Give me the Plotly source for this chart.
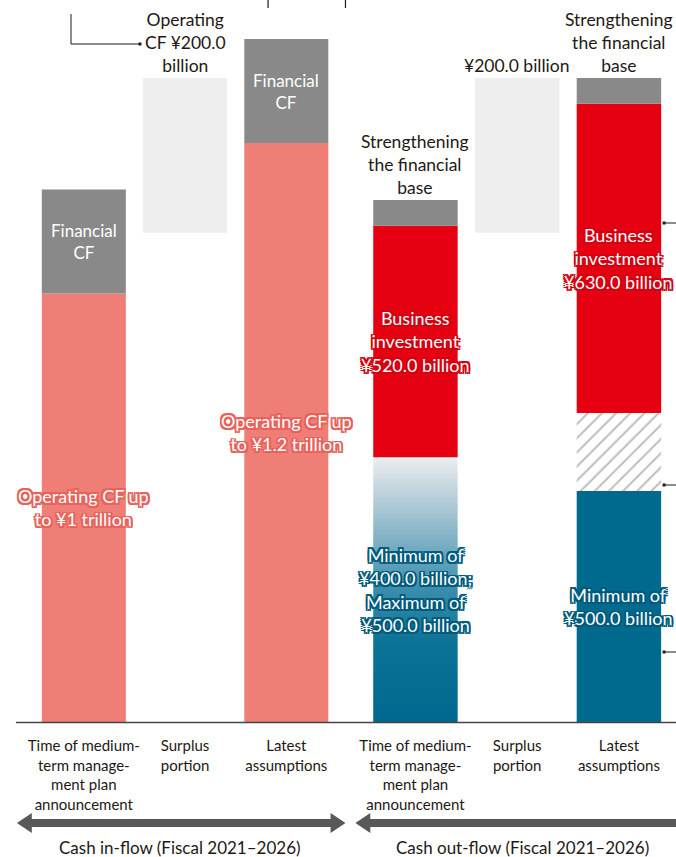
import plotly.graph_objects as go

# ---------------- data (schematic heights) ----------------
inflow_labels = ["Time of medium-<br>term manage-<br>ment plan<br>announcement",
                 "Surplus<br>portion", "Latest<br>assumptions"]
outflow_labels = ["Time of medium-<br>term manage-<br>ment plan<br>announcement",
                  "Surplus<br>portion", "Latest<br>assumptions"]

pos = [0, 1, 2]
# cash in-flow
in_operating = [1000, 0, 1351]
in_financial = [243, 0, 243]
in_surplus_base = 1142
in_surplus = 361
# cash out-flow
out_shareholder_plan = 617        # gradient (min 400 / max 500)
out_shareholder_latest = 539      # solid blue (min 500)
out_hatch_latest = 182
out_business = [541, 0, 722]
out_strength = [60, 0, 60]
out_surplus_base = 1142
out_surplus = 361

# ---------------- style ----------------
W, H, PLOT_H = 676, 857, 722
FONT = "Lato"
INK = "#231815"
SALMON = "#EF7E77"
GRAY = "#898989"
LIGHT = "#EEEEEE"
RED = "#E50012"
BLUE = "#00698E"
BW = 0.83


def px(x):
    return x / W


def py(y):
    return (PLOT_H - y) / PLOT_H


def outline(c, r=1.8):
    offs = [(r, 0), (-r, 0), (0, r), (0, -r), (r, r), (-r, -r), (r, -r), (-r, r)]
    return ", ".join(f"{a}px {b}px 0px {c}" for a, b in offs)


fig = go.Figure()

# ---- in-flow bars ----
fig.add_bar(x=[0, 2], y=[in_operating[0], in_operating[2]], width=BW,
            marker=dict(color=SALMON, line_width=0), xaxis="x", yaxis="y")
fig.add_bar(x=[0, 2], y=[in_financial[0], in_financial[2]],
            base=[in_operating[0], in_operating[2]], width=BW,
            marker=dict(color=GRAY, line_width=0), xaxis="x", yaxis="y")
fig.add_bar(x=[1], y=[in_surplus], base=[in_surplus_base], width=BW,
            marker=dict(color=LIGHT, line_width=0), xaxis="x", yaxis="y")

# ---- out-flow bars ----
hw = BW / 2
fig.add_scatter(x=[pos[0] - hw, pos[0] + hw, pos[0] + hw, pos[0] - hw, pos[0] - hw],
                y=[0, 0, out_shareholder_plan, out_shareholder_plan, 0],
                mode="lines", fill="toself", line=dict(width=0),
                fillgradient=dict(type="vertical", start=0, stop=out_shareholder_plan,
                                  colorscale=[[0, "#00688E"], [0.3, "#0B7396"],
                                              [0.5, "#3A8DAC"], [0.7, "#84B3C6"],
                                              [0.9, "#CAD9E1"], [1, "#ECEEF0"]]),
                xaxis="x2", yaxis="y", hoverinfo="skip")
fig.add_bar(x=[2], y=[out_shareholder_latest], width=BW,
            marker=dict(color=BLUE, line_width=0), xaxis="x2", yaxis="y")
fig.add_bar(x=[2], y=[out_hatch_latest], base=[out_shareholder_latest], width=BW,
            marker=dict(color="white", line_width=0,
                        pattern=dict(shape="/", fgcolor="#7A7A7A", bgcolor="white",
                                     size=10, solidity=0.2)),
            xaxis="x2", yaxis="y")
biz_base = [out_shareholder_plan, out_shareholder_latest + out_hatch_latest]
fig.add_bar(x=[0, 2], y=[out_business[0], out_business[2]], base=biz_base, width=BW,
            marker=dict(color=RED, line_width=0), xaxis="x2", yaxis="y")
str_base = [biz_base[0] + out_business[0], biz_base[1] + out_business[2]]
fig.add_bar(x=[0, 2], y=[out_strength[0], out_strength[2]], base=str_base, width=BW,
            marker=dict(color=GRAY, line_width=0), xaxis="x2", yaxis="y")
fig.add_bar(x=[1], y=[out_surplus], base=[out_surplus_base], width=BW,
            marker=dict(color=LIGHT, line_width=0), xaxis="x2", yaxis="y")

# ---------------- labels ----------------
ann = []


def inner(xref, x, y, text, col, size=18, shadow=True):
    f = dict(family=FONT, size=size, color="white")
    if shadow:
        f["shadow"] = outline(col)
    ann.append(dict(xref=xref, yref="y", x=x, y=y, text=text, showarrow=False,
                    font=f, xanchor="center", yanchor="middle", align="center"))


def above(xref, x, y, text, size=17.5):
    ann.append(dict(xref=xref, yref="y", x=x, y=y, text=text, showarrow=False,
                    font=dict(family=FONT, size=size, color=INK),
                    xanchor="center", yanchor="bottom", align="center", yshift=0))


inner("x", 0, in_operating[0] + in_financial[0] / 2, "Financial<br>CF", GRAY, size=17, shadow=False)
inner("x", 2, in_operating[2] + in_financial[2] / 2, "Financial<br>CF", GRAY, size=17, shadow=False)
inner("x", 0, in_operating[0] / 2, "Operating CF up<br>to ¥1 trillion", "#E8625B")
inner("x", 2, in_operating[2] / 2, "Operating CF up<br>to ¥1.2 trillion", "#E8625B")
above("x", 1, in_surplus_base + in_surplus, "Operating<br>CF ¥200.0<br>billion")

inner("x2", 0, biz_base[0] + out_business[0] / 2,
      "Business<br>investment<br>¥520.0 billion", "#D5000F")
inner("x2", 2, biz_base[1] + out_business[2] / 2,
      "Business<br>investment<br>¥630.0 billion", "#D5000F")
inner("x2", 0, out_shareholder_plan / 2,
      "Minimum of<br>¥400.0 billion;<br>Maximum of<br>¥500.0 billion", "#005A7C")
inner("x2", 2, out_shareholder_latest / 2,
      "Minimum of<br>¥500.0 billion", "#005A7C")
above("x2", 0, str_base[0] + out_strength[0], "Strengthening<br>the financial<br>base")
above("x2", 1, out_surplus_base + out_surplus, "¥200.0 billion")
above("x2", 2, str_base[1] + out_strength[2], "Strengthening<br>the financial<br>base")

# bottom captions
ann.append(dict(xref="paper", yref="paper", x=px(176), y=py(848),
                text="Cash in-flow (Fiscal 2021–2026)", showarrow=False,
                font=dict(family=FONT, size=17, color=INK), xanchor="center", yanchor="middle"))
ann.append(dict(xref="paper", yref="paper", x=px(521), y=py(848),
                text="Cash out-flow (Fiscal 2021–2026)", showarrow=False,
                font=dict(family=FONT, size=17, color=INK), xanchor="center", yanchor="middle"))

# ---------------- shapes ----------------
shapes = []
# baseline
shapes.append(dict(type="line", xref="paper", yref="paper", x0=px(11), x1=1.0,
                   y0=py(722.5), y1=py(722.5), line=dict(color="#444444", width=1.6)))


def path(pts):
    return "M " + " L ".join(f"{px(a):.5f},{py(b):.5f}" for a, b in pts) + " Z"


ARROW = "#595757"
yc = 823
left_arrow = [(12, yc), (27, yc - 10), (27, yc - 4), (328, yc - 4), (328, yc - 10),
              (343, yc), (328, yc + 10), (328, yc + 4), (27, yc + 4), (27, yc + 10)]
right_arrow = [(353, yc), (368, yc - 10), (368, yc - 4), (700, yc - 4), (700, yc + 4),
               (368, yc + 4), (368, yc + 10)]
for pts in (left_arrow, right_arrow):
    shapes.append(dict(type="path", xref="paper", yref="paper", path=path(pts),
                       fillcolor=ARROW, line=dict(width=0)))

# connector top-left
shapes.append(dict(type="path", xref="paper", yref="paper",
                   path=f"M {px(66.5)},{py(14)} L {px(66.5)},{py(44)} L {px(136)},{py(44)}",
                   line=dict(color=INK, width=1)))
shapes.append(dict(type="rect", xref="paper", yref="paper", x0=px(134.5), x1=px(137.5),
                   y0=py(45.5), y1=py(42.5), fillcolor=INK, line=dict(width=0)))
# tiny strokes at the very top
for xx in (265, 343):
    shapes.append(dict(type="line", xref="paper", yref="paper", x0=px(xx), x1=px(xx),
                       y0=py(0), y1=py(8), line=dict(color=INK, width=1.2)))
# right-side pointers
for yy in (223, 485, 652):
    shapes.append(dict(type="line", xref="paper", yref="paper", x0=px(664), x1=1.0,
                       y0=py(yy), y1=py(yy), line=dict(color=INK, width=1)))
    shapes.append(dict(type="rect", xref="paper", yref="paper", x0=px(662.5), x1=px(665.5),
                       y0=py(yy + 1.5), y1=py(yy - 1.5), fillcolor=INK, line=dict(width=0)))

axis_common = dict(range=[-0.5, 2.5], showgrid=False, zeroline=False, showline=False,
                   ticks="", tickvals=pos, fixedrange=True, ticklabelstandoff=13,
                   tickfont=dict(family=FONT, size=15, color=INK))

fig.update_layout(
    width=W, height=H, margin=dict(l=0, r=0, t=0, b=H - PLOT_H),
    paper_bgcolor="white", plot_bgcolor="white",
    barmode="overlay", showlegend=False, hovermode=False,
    xaxis=dict(domain=[px(28.4), px(334.4)], anchor="y", ticktext=inflow_labels, **axis_common),
    xaxis2=dict(domain=[px(362.25), px(669.75)], anchor="y", ticktext=outflow_labels, **axis_common),
    yaxis=dict(range=[0, 1685], visible=False, fixedrange=True),
    annotations=ann, shapes=shapes,
    font=dict(family=FONT, color=INK),
)

# remove the browser's default 8px page margin so the figure sits at the window's corner
fig.write_html("out.html", config={"displayModeBar": False, "staticPlot": True},
               post_script="document.body.style.margin='0';document.body.style.overflow='hidden';")
